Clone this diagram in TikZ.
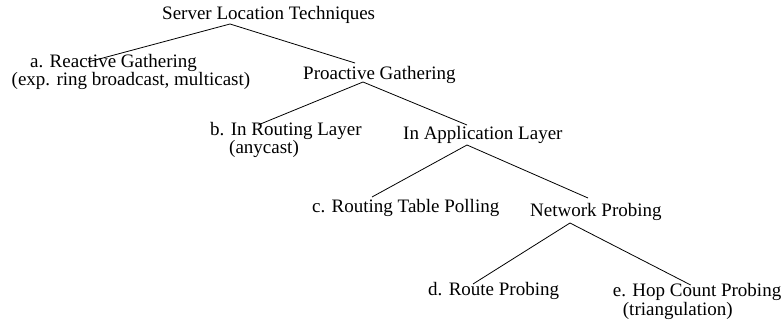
\documentclass[tikz,border=0pt]{standalone}
\usepackage{fontspec}
\setmainfont{Liberation Serif}
\usetikzlibrary{calc}

\begin{document}
\begin{tikzpicture}[x=1pt, y=-1pt, every text node part/.style={align=left}]

\tikzstyle{txt}=[inner sep=0, anchor=base west, font=\fontsize{19}{13.3}\selectfont]
\tikzstyle{lnk}=[draw, line width=0.8pt]

\useasboundingbox (0, 0) rectangle (782, 323);

% two-line labels sit on the baseline of their last line
\node (root)        [txt] at (162, 20)    {Server Location Techniques};
\node (reactive)    [txt] at (11.5, 85.6) {\hspace*{18.5pt}a. Reactive Gathering\\(exp. ring broadcast, multicast)};
\node (proactive)   [txt] at (303, 80)    {Proactive Gathering};
\node (routing)     [txt] at (210, 153.3) {b. In Routing Layer\\\hspace*{19pt}(anycast)};
\node (application) [txt] at (403, 140)   {In Application Layer};
\node (polling)     [txt] at (312, 213)   {c. Routing Table Polling};
\node (network)     [txt] at (530, 217)   {Network Probing};
\node (routeprobe)  [txt] at (428, 295)   {d. Route Probing};
\node (hopcount)    [txt] at (612.7, 315) {e. Hop Count Probing\\\hspace*{10pt}(triangulation)};

\path [lnk] ($ (root.base west) + (68, 4) $)        -- ($ (reactive.base west) + (76.5, -23.6) $);
\path [lnk] ($ (root.base west) + (68, 4) $)        -- ($ (proactive.base west) + (52, -17) $);
\path [lnk] ($ (proactive.base west) + (60, 2) $)   -- ($ (routing.base west) + (48, -28.3) $);
\path [lnk] ($ (proactive.base west) + (60, 2) $)   -- ($ (application.base west) + (64, -15) $);
\path [lnk] ($ (application.base west) + (64, 5) $) -- ($ (polling.base west) + (60, -16) $);
\path [lnk] ($ (application.base west) + (64, 5) $) -- ($ (network.base west) + (58, -19) $);
\path [lnk] ($ (network.base west) + (40, 6) $)     -- ($ (routeprobe.base west) + (45, -11) $);
\path [lnk] ($ (network.base west) + (40, 6) $)     -- ($ (hopcount.base west) + (78, -30) $);
\end{tikzpicture}
\end{document}
